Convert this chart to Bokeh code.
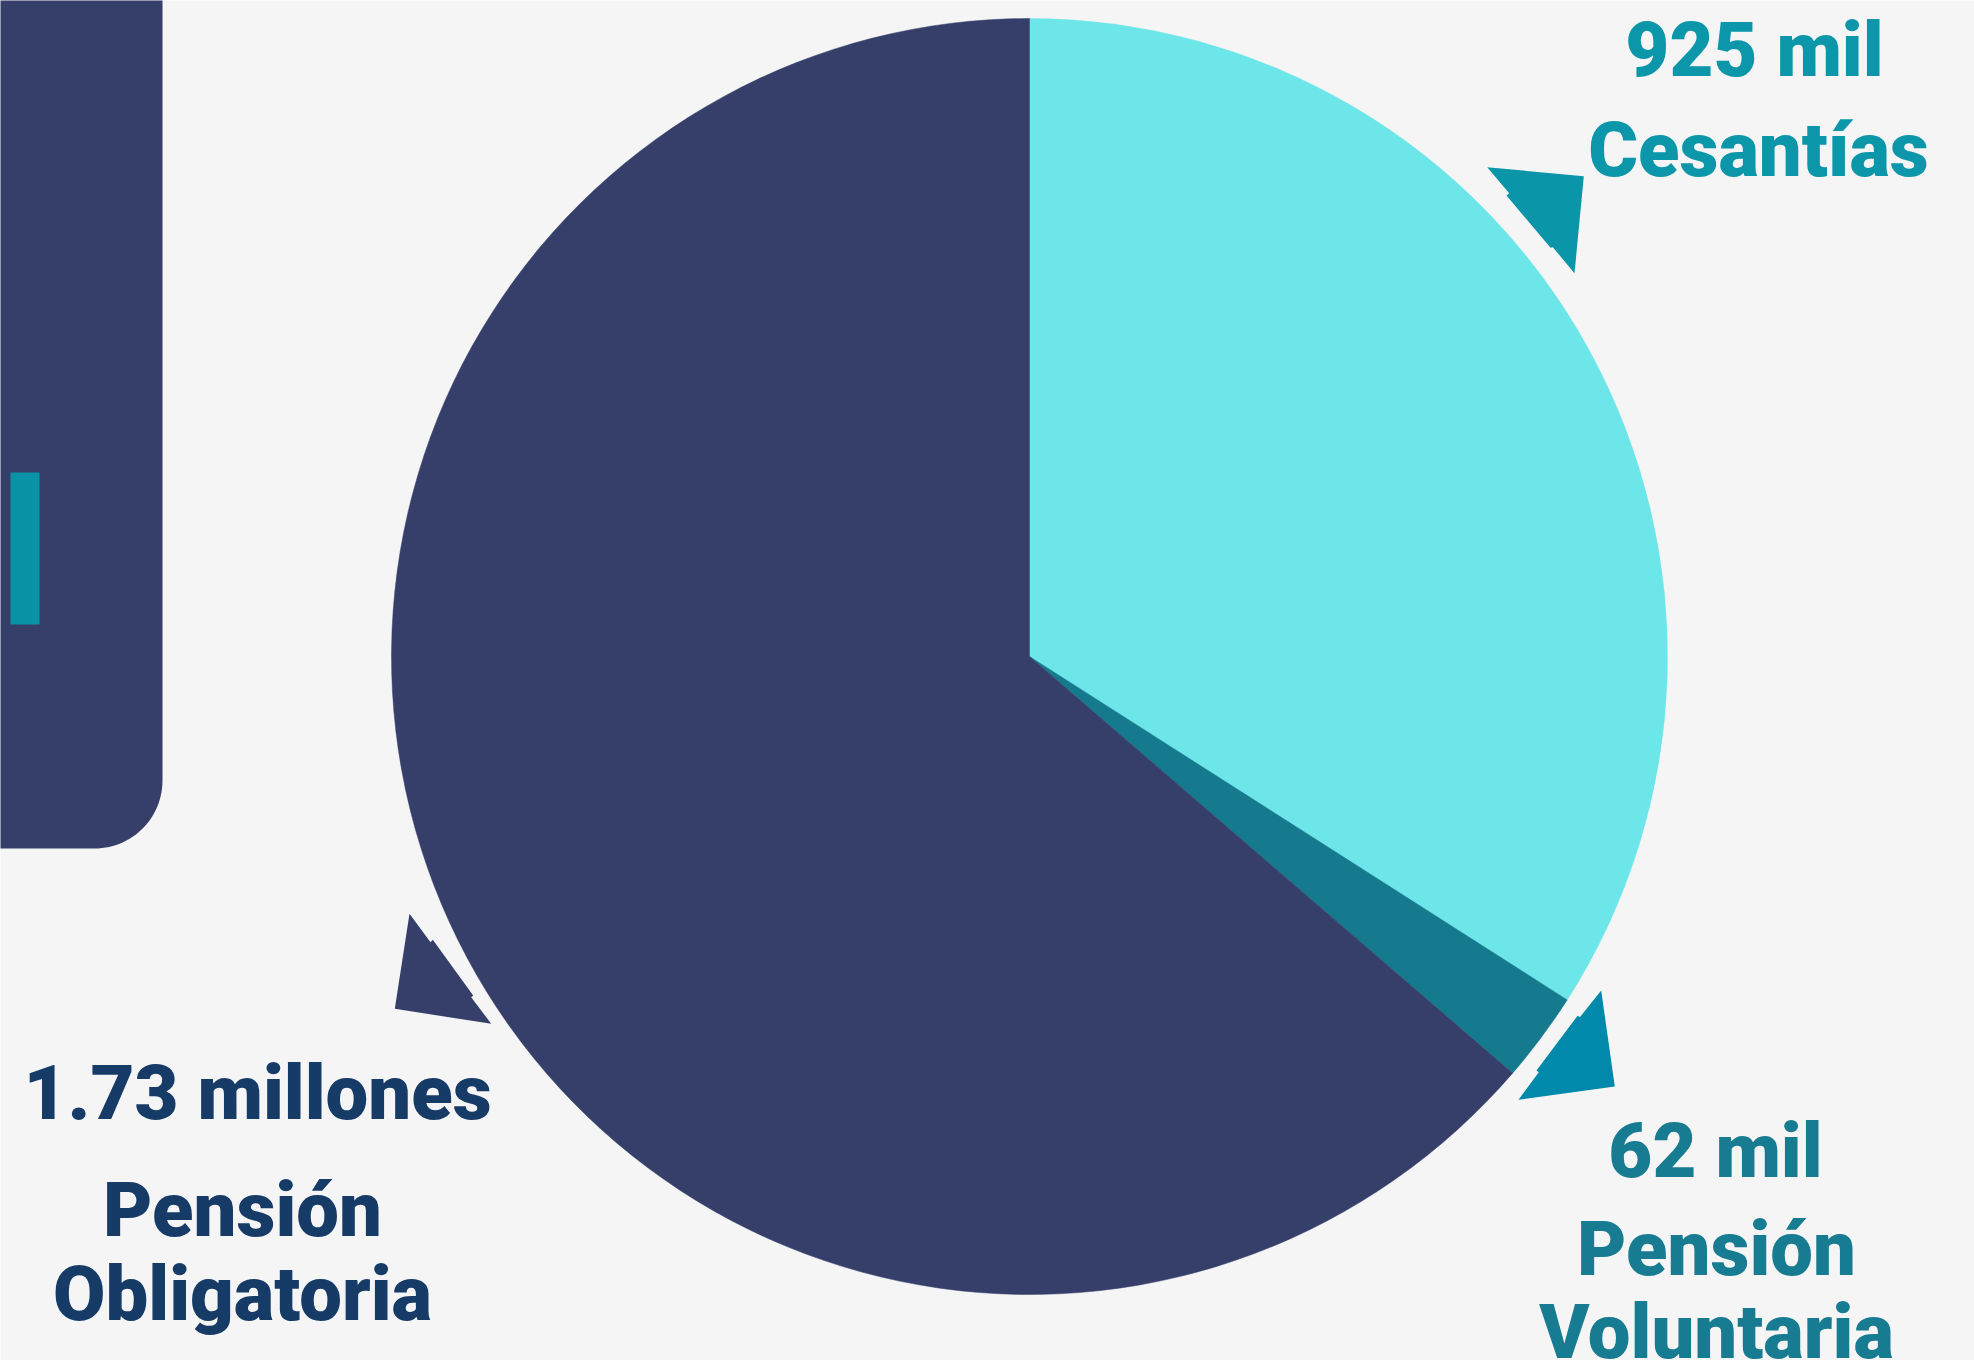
import numpy as np
from bokeh.plotting import figure
from bokeh.models import Range1d, ColumnDataSource
from bokeh.core.properties import value
from bokeh.embed import file_html
from bokeh.resources import INLINE

# ---- data ----
categories = ["Cesantías", "Pensión Voluntaria", "Pensión Obligatoria"]
values_mil = [925, 62, 1730]
value_labels = ["925 mil", "62 mil", "1.73 millones"]
name_lines = [["Cesantías"], ["Pensión", "Voluntaria"], ["Pensión", "Obligatoria"]]

# ---- style ----
slice_colors = ["#6ce6e9", "#167a8f", "#353f6a"]
text_colors = ["#0c96a9", "#177b91", "#173b67"]
arrow_colors = ["#0a95a8", "#0089ab", "#353f6a"]
BG = "#f5f5f5"

W, H = 1974, 1360
TEXT_DY = 25  # compensation for the renderer's baseline placement


def yu(v):
    return H - v


p = figure(width=W, height=H, x_range=Range1d(0, W), y_range=Range1d(0, H),
           output_backend="svg", toolbar_location=None, min_border=0,
           x_axis_type=None, y_axis_type=None,
           background_fill_color=BG, border_fill_color=BG, outline_line_color=None)
p.grid.visible = False

# ---- left panel (rounded bottom-right corner) ----
pr, pw, ph = 68, 162, 848
arc = np.linspace(0, -np.pi / 2, 30)
px = [-10, pw] + list(pw - pr + pr * np.cos(arc)) + [-10]
py = [yu(-10), yu(-10)] + list(yu(ph - pr) + pr * np.sin(arc)) + [yu(ph)]
p.patch(x=px, y=py, fill_color="#353f6a", line_color=None)
p.quad(left=[10], right=[39], top=[yu(472)], bottom=[yu(624)],
       fill_color="#0a93a7", line_color=None)

# ---- pie ----
cx, cy, R = 1029, yu(656), 638
vals = np.array(values_mil, dtype=float)
frac = vals / vals.sum()
cum = np.concatenate([[0], np.cumsum(frac)])
starts = np.pi / 2 - cum[1:] * 2 * np.pi
ends = np.pi / 2 - cum[:-1] * 2 * np.pi
src = ColumnDataSource(dict(start=starts, end=ends, color=slice_colors, cat=categories))
p.wedge(x=cx, y=cy, radius=R, start_angle="start", end_angle="end",
        fill_color="color", line_color="color", line_width=0.5, source=src)

# ---- arrow pointers ----
arrows_ref = [
    [(1486.7, 166.7), (1583.3, 175.7), (1574, 272.7), (1552.3, 246.7),
     (1550, 247.3), (1506, 195), (1508.7, 192.7)],
    [(1600.7, 990), (1614.3, 1086), (1518, 1099.3), (1538.3, 1071.7),
     (1536, 1070), (1577, 1015.3), (1579.3, 1016.7)],
    [(409, 913.3), (394.3, 1008.3), (490.7, 1023.3), (470.7, 996.7),
     (472.7, 995), (432.3, 939.3), (430, 941.7)],
]
p.patches(xs=[[pt[0] for pt in a] for a in arrows_ref],
          ys=[[yu(pt[1]) for pt in a] for a in arrows_ref],
          fill_color=arrow_colors, line_color=None)

# ---- labels ----
label_pos = [  # (center x, baseline y) per line, reference pixels
    [(1754, 74), (1758, 174)],
    [(1715, 1175), (1716, 1273), (1716, 1356)],
    [(257, 1117), (242, 1234), (242, 1318)],
]
tx, ty, tt, tc = [], [], [], []
for i in range(len(categories)):
    lines = [value_labels[i]] + name_lines[i]
    for (x, y), s in zip(label_pos[i], lines):
        tx.append(x)
        ty.append(yu(y - TEXT_DY))
        tt.append(s)
        tc.append(text_colors[i])
p.text(x=tx, y=ty, text=tt, text_color=tc, text_font=value("Roboto Black"),
       text_font_style="normal", text_font_size="76px", text_align="center",
       text_baseline="alphabetic")

open("out.html", "w").write(file_html(p, INLINE))
